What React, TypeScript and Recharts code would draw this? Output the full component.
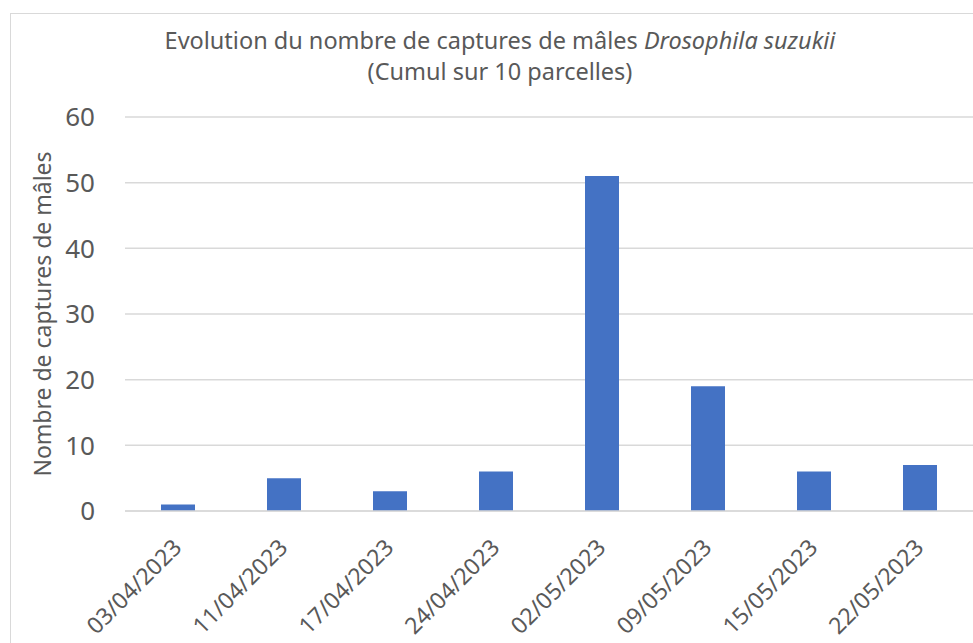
import React from "react";
import { BarChart, Bar, XAxis, YAxis, CartesianGrid, Label } from "recharts";

const dates = [
  "03/04/2023",
  "11/04/2023",
  "17/04/2023",
  "24/04/2023",
  "02/05/2023",
  "09/05/2023",
  "15/05/2023",
  "22/05/2023",
];
const captures = [1, 5, 3, 6, 51, 19, 6, 7];
const yTicks = [0, 10, 20, 30, 40, 50, 60];

const data = dates.map((d, i) => ({ date: d, value: captures[i] }));

const FONT = "'Noto Sans', sans-serif";
const TEXT = "#595959";

function DateTick(props: any) {
  const { x, y, payload } = props;
  return (
    <g transform={`translate(${x + 5},${y + 30})`}>
      <text
        transform="rotate(-45)"
        textAnchor="end"
        fill={TEXT}
        fontSize={23}
        fontFamily={FONT}
      >
        {payload.value}
      </text>
    </g>
  );
}

export default function App() {
  return (
    <div
      style={{
        position: "absolute",
        left: 0,
        top: 0,
        width: 973,
        height: 643,
        background: "#fff",
        overflow: "hidden",
      }}
    >
      <div
        style={{
          position: "absolute",
          left: 10,
          top: 13,
          width: 980,
          height: 700,
          borderLeft: "1px solid #d9d9d9",
          borderTop: "1px solid #d9d9d9",
        }}
      />
      <div
        style={{
          position: "absolute",
          left: 0,
          top: 25,
          width: 1000,
          textAlign: "center",
          fontFamily: FONT,
          fontSize: 23.5,
          lineHeight: "31px",
          color: TEXT,
        }}
      >
        Evolution du nombre de captures de mâles <i>Drosophila suzukii</i>
        <br />
        (Cumul sur 10 parcelles)
      </div>
      <div style={{ position: "absolute", left: 0, top: 0 }}>
        <BarChart
          width={973}
          height={643}
          data={data}
          margin={{ top: 117, right: 0, bottom: 0, left: 0 }}
          barSize={34}
        >
          <CartesianGrid vertical={false} stroke="#d9d9d9" strokeWidth={1.5} />
          <XAxis
            dataKey="date"
            tickLine={false}
            axisLine={{ stroke: "#d9d9d9", strokeWidth: 1.5 }}
            tick={<DateTick />}
            interval={0}
            height={132}
          />
          <YAxis
            domain={[0, 60]}
            ticks={yTicks}
            axisLine={false}
            tickLine={false}
            tickSize={0}
            tickMargin={30}
            width={125}
            tick={{ fill: TEXT, fontSize: 26, fontFamily: FONT }}
          >
            <Label
              value="Nombre de captures de mâles"
              angle={-90}
              position="insideLeft"
              offset={0}
              dx={43}
              style={{
                fill: TEXT,
                fontSize: 23,
                fontFamily: FONT,
                textAnchor: "middle",
              }}
            />
          </YAxis>
          <Bar dataKey="value" fill="#4472C4" isAnimationActive={false} />
        </BarChart>
      </div>
    </div>
  );
}
